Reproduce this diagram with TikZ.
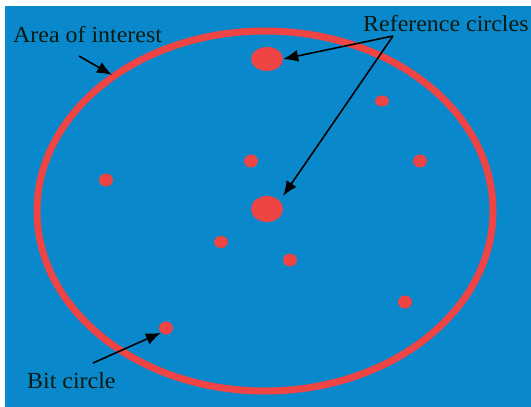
\documentclass[tikz,border=0pt]{standalone}
\usepackage{fontspec}
\setmainfont{Liberation Serif}
\definecolor{bg}{HTML}{0A88CC}
\definecolor{rd}{HTML}{EE4444}
\definecolor{tx}{HTML}{0A1A10}
\tikzset{
  dot/.style={fill=rd, draw=none, ellipse, inner sep=0pt},
  lbl/.style={text=tx, font=\fontsize{23}{25}\selectfont, inner sep=0pt, xscale=1.04},
  pointer/.style={draw=black, line width=1.6pt, -{Latex[length=15pt,width=12pt]}},
}
\usetikzlibrary{arrows.meta,shapes.geometric}
\begin{document}
\begin{tikzpicture}[x=1pt,y=-1pt]
\useasboundingbox (0,0) rectangle (531,407);
\fill[bg] (5,6) rectangle (531,407);
\draw[rd, line width=7pt] (265,211) ellipse [x radius=228, y radius=180];
\node[dot, minimum width=32pt, minimum height=24pt] (r1) at (267,59) {};
\node[dot, minimum width=32pt, minimum height=26pt] (r2) at (267,209) {};
\node[dot, minimum width=14pt, minimum height=11pt] (b1) at (382,101) {};
\node[dot, minimum width=14pt, minimum height=13pt] (b2) at (251,161) {};
\node[dot, minimum width=14pt, minimum height=13pt] (b3) at (420,161) {};
\node[dot, minimum width=14pt, minimum height=13pt] (b4) at (106,180) {};
\node[dot, minimum width=14pt, minimum height=12pt] (b5) at (221,242) {};
\node[dot, minimum width=14pt, minimum height=13pt] (b6) at (290,260) {};
\node[dot, minimum width=14pt, minimum height=13pt] (b7) at (405,302) {};
\node[dot, minimum width=14pt, minimum height=13pt] (b8) at (166,328) {};
\node[lbl, anchor=west] (t1) at (13,35) {Area of interest};
\node[lbl, anchor=west] (t2) at (363,24) {Reference circles};
\node[lbl, anchor=west] (t3) at (27,381) {Bit circle};
\coordinate (a1) at (79,56);
\coordinate (a2) at (112,75);
\coordinate (apex) at (393,36);
\coordinate (a3) at (93,363);
\draw[pointer] (a1) -- (a2);
\draw[pointer] (apex) -- (r1.east);
\draw[pointer] (apex) -- (283,196);
\draw[pointer] (a3) -- (b8.south west);
\end{tikzpicture}
\end{document}
